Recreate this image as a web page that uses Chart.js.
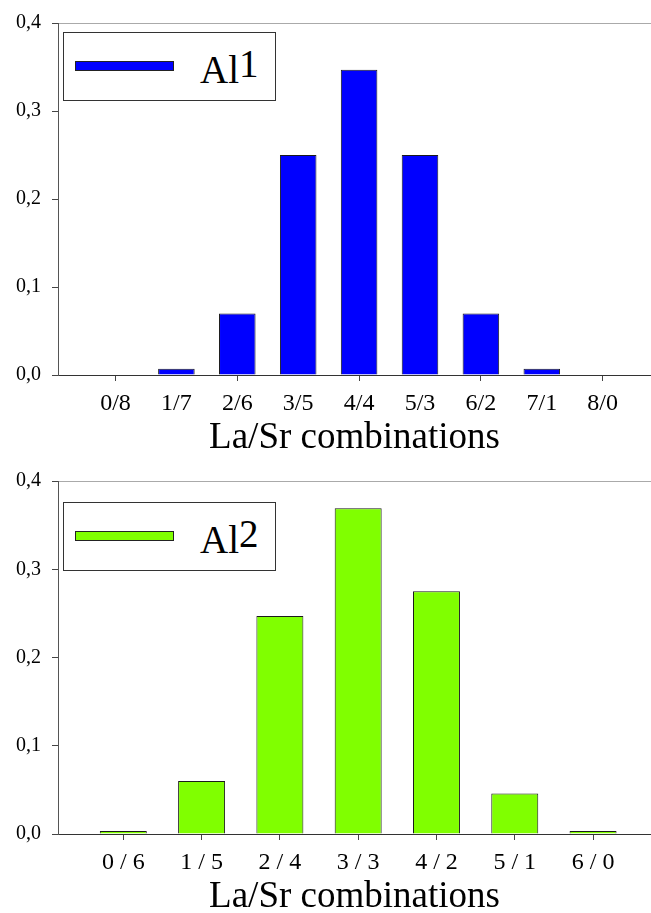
<!DOCTYPE html>
<html>
<head>
<meta charset="utf-8">
<title>La/Sr combinations</title>
<script src="https://cdn.jsdelivr.net/npm/chart.js@4.4.1/dist/chart.umd.min.js"></script>
<style>
  html, body { margin: 0; padding: 0; background: #fff; }
  #wrap { position: relative; width: 651px; height: 913px; overflow: hidden; }
  .panel { position: absolute; left: 0; width: 651px; }
  .legend {
    position: absolute; left: 63px; width: 211px; height: 67px;
    border: 1px solid #333; background: #fff;
    font-family: "Liberation Serif", "Times New Roman", serif;
  }
  .swatch { position: absolute; left: 11px; top: 28px; width: 97px; height: 8px; border: 1px solid #222; }
  .lab { position: absolute; left: 136px; top: 17px; font-size: 39px; line-height: 39px; color: #000; white-space: nowrap; }
  .lab .sup { position: relative; top: -6px; }
</style>
</head>
<body>
<div id="wrap">
  <div class="panel" style="top:0;height:454px"><canvas id="chartTop" width="651" height="454"></canvas></div>
  <div class="panel" style="top:454px;height:459px"><canvas id="chartBottom" width="651" height="459"></canvas></div>
  <div class="legend" id="legendTop" style="top:32px"></div>
  <div class="legend" id="legendBottom" style="top:502px"></div>
</div>
<script>
// dados
const topLabels = ['0/8', '1/7', '2/6', '3/5', '4/4', '5/3', '6/2', '7/1', '8/0'];
const topValues = [0, 0.007, 0.07, 0.25, 0.347, 0.25, 0.07, 0.007, 0];
const topSeries = ['Al', '1'];

const bottomLabels = ['0 / 6', '1 / 5', '2 / 4', '3 / 3', '4 / 2', '5 / 1', '6 / 0'];
const bottomValues = [0.0034, 0.06, 0.247, 0.369, 0.275, 0.046, 0.0034];
const bottomSeries = ['Al', '2'];

const yMin = 0;
const yMax = 0.4;
const yStep = 0.1;
const xTitle = 'La/Sr combinations';

const serif = '"Liberation Serif", "Times New Roman", serif';

function buildLegend(id, series, color) {
    const box = document.getElementById(id);
    const sw = document.createElement('div');
    sw.className = 'swatch';
    sw.style.background = color;
    const lab = document.createElement('div');
    lab.className = 'lab';
    lab.textContent = series[0];
    const sup = document.createElement('span');
    sup.className = 'sup';
    sup.textContent = series[1];
    lab.appendChild(sup);
    box.appendChild(sw);
    box.appendChild(lab);
}

function makeChart(canvasId, labels, values, color, opt) {
    const ctx = document.getElementById(canvasId);
    const points = values.map(function (v, i) { return { x: i, y: v }; });

    return new Chart(ctx, {
        type: 'bar',
        data: {
            datasets: [{
                data: points,
                backgroundColor: color,
                borderColor: '#1a1a1a',
                borderWidth: 1,
                borderSkipped: 'bottom',
                categoryPercentage: 1,
                barPercentage: 0.6
            }]
        },
        options: {
            responsive: false,
            animation: false,
            layout: { padding: { top: opt.padTop, right: 0, bottom: 0, left: 0 } },
            plugins: { legend: { display: false }, tooltip: { enabled: false } },
            scales: {
                x: {
                    type: 'linear',
                    offset: false,
                    min: opt.xMin,
                    max: opt.xMax,
                    afterFit: function (scale) { scale.height = 79; },
                    border: { color: '#333', width: 1 },
                    grid: {
                        offset: false,
                        drawOnChartArea: false,
                        tickLength: 6,
                        tickColor: function (c) {
                            // no gráfico de cima só há traços nas posições pares
                            if (!c.tick) return 'transparent';
                            return c.tick.value % opt.tickEvery === 0 ? '#444' : 'transparent';
                        }
                    },
                    ticks: {
                        stepSize: 1,
                        includeBounds: false,
                        autoSkip: false,
                        maxRotation: 0,
                        padding: 8,
                        color: '#000',
                        font: { family: serif, size: 24 },
                        callback: function (v) { return labels[v] !== undefined ? labels[v] : ''; }
                    },
                    title: {
                        display: true,
                        text: xTitle,
                        color: '#000',
                        font: { family: serif, size: 37, lineHeight: 0.86 },
                        padding: { top: 0, bottom: 0 }
                    }
                },
                y: {
                    min: yMin,
                    max: yMax,
                    afterFit: function (scale) { scale.width = 58; },
                    border: { color: '#555', width: 1 },
                    grid: {
                        tickLength: 6,
                        tickColor: '#444',
                        color: function (c) {
                            // só a linha do topo (0,4) aparece
                            return c.tick && Math.abs(c.tick.value - yMax) < 1e-9 ? '#aaa' : 'transparent';
                        }
                    },
                    ticks: {
                        stepSize: yStep,
                        padding: 11,
                        color: '#000',
                        font: { family: serif, size: 20 },
                        callback: function (v) { return v.toFixed(1).replace('.', ','); }
                    }
                }
            }
        }
    });
}

buildLegend('legendTop', topSeries, '#0000ff');
buildLegend('legendBottom', bottomSeries, '#80ff00');

makeChart('chartTop', topLabels, topValues, '#0000ff', { padTop: 22, xMin: -0.944, xMax: 8.793, tickEvery: 2 });
makeChart('chartBottom', bottomLabels, bottomValues, '#80ff00', { padTop: 27, xMin: -0.834, xMax: 6.74, tickEvery: 1 });
</script>
</body>
</html>
